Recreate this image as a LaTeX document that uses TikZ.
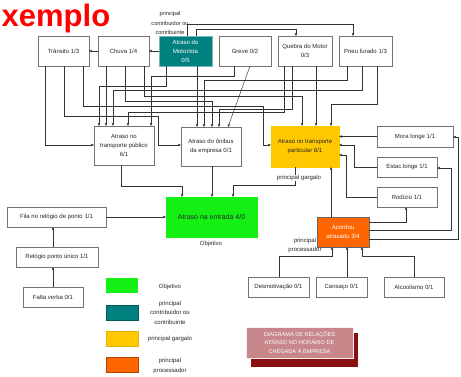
\documentclass[tikz,border=0pt]{standalone}
\usepackage{fontspec}
\setmainfont{Liberation Sans}
\usetikzlibrary{arrows.meta}
\definecolor{cgreen}{HTML}{14F014}
\definecolor{cteal}{HTML}{00807F}
\definecolor{cyellow}{HTML}{FFC800}
\definecolor{corange}{HTML}{FF6600}
\definecolor{cpink}{HTML}{C8878A}
\definecolor{cdark}{HTML}{8A1010}
\definecolor{cred}{HTML}{FF0000}
\begin{document}
\begin{tikzpicture}[x=1pt,y=-1pt,
  box/.style={draw=black!55, line width=0.5pt, fill=white, inner sep=0pt, outer sep=0pt, align=center, font=\fontsize{6}{9}\selectfont, text=black!85},
  con/.style={draw=black!80, line width=0.45pt, -{Stealth[length=3.2pt,width=2.6pt]}},
  lbl/.style={inner sep=0.5pt, align=center, font=\fontsize{6}{9}\selectfont, text=black!85},
  leg/.style={inner sep=0pt, outer sep=0pt, minimum width=32pt, minimum height=15pt}]
\useasboundingbox (0,0) rectangle (461,376);
\fill[white] (0,0) rectangle (461,376);

% title
\node[font=\bfseries\fontsize{31}{31}\selectfont, text=cred, anchor=base west, inner sep=0pt] (title) at (1.5,26.5) {xemplo};

% top row
\node[box, minimum width=51pt, minimum height=30pt] (T) at (63.5,51) {Trânsito 1/3};
\node[box, minimum width=51pt, minimum height=30pt] (C) at (123.5,51) {Chuva 1/4};
\node[box, minimum width=53pt, minimum height=30pt, fill=cteal, draw=cteal!55, text=white] (M) at (185.5,51) {Atraso do\\Motorista\\0/5};
\node[box, minimum width=52pt, minimum height=30pt] (G) at (245,51) {Greve 0/2};
\node[box, minimum width=54pt, minimum height=30pt] (Q) at (305,51) {Quebra do Motor\\0/3};
\node[box, minimum width=53pt, minimum height=30pt] (P) at (365.5,51) {Pneu furado 1/3};

% middle row
\node[box, minimum width=60pt, minimum height=39pt] (TP) at (124,145.5) {Atraso no\\transporte público\\6/1};
\node[box, minimum width=60pt, minimum height=39pt] (ON) at (211,146.5) {Atraso do ônibus\\da empresa 0/1};
\node[box, minimum width=68pt, minimum height=41pt, fill=cyellow, draw=cyellow] (PA) at (305,146.5) {Atraso no transporte\\particular 8/1};
\node[box, minimum width=76pt, minimum height=21pt] (Mo) at (415,136.5) {Mora longe 1/1};
\node[box, minimum width=60pt, minimum height=20pt] (Es) at (407,167) {Estac.longe 1/1};
\node[box, minimum width=60pt, minimum height=20pt] (Ro) at (407,197) {Rodízio 1/1};

% lower
\node[box, minimum width=91pt, minimum height=40pt, fill=cgreen, draw=cgreen, font=\fontsize{7}{9}\selectfont] (Gr) at (211.5,217) {Atraso na entrada 4/0};
\node[box, minimum width=99pt, minimum height=20pt] (Fi) at (56.5,217) {Fila no relógio de ponto 1/1};
\node[box, minimum width=82pt, minimum height=20pt] (Re) at (57,257) {Relógio ponto único 1/1};
\node[box, minimum width=60pt, minimum height=20pt] (Fa) at (53,297) {Falta verba 0/1};
\node[box, minimum width=52pt, minimum height=30pt, fill=corange, draw=black!60, text=white] (Ac) at (343,232) {Acordou\\atrasado 3/4};
\node[box, minimum width=61pt, minimum height=20pt] (De) at (278.5,287) {Desmotivação 0/1};
\node[box, minimum width=51pt, minimum height=20pt] (Ca) at (341.5,287) {Cansaço 0/1};
\node[box, minimum width=60pt, minimum height=20pt] (Al) at (414,287) {Alcoolismo 0/1};

% connectors top row
\draw[con] (M.west) -- (C.east);
\draw[con] (C.west) -- (T.east);
\draw[con] (M.north -| 187,0) -- (187,24) -| (P.north -| 353,0);
\draw[con] (M.north -| 196,0) -- (196,29) -| (Q.north -| 296,0);

% top to middle
\draw[con] (T.south -| 45,0) |- (TP.west |- 0,145);
\draw[con] (T.south -| 64,0) |- (158,116) |- (ON.west |- 0,145);
\draw[con] (T.south -| 83,0) |- (263,106) |- (PA.west |- 0,145);
\draw[con] (C.south -| 106,0) -- (TP.north -| 106,0);
\draw[con] (C.south -| 125,0) |- (212,101) -- (ON.north -| 212,0);
\draw[con] (C.south -| 144,0) |- (302,96) -- (PA.north -| 302,0);
\draw[con] (M.south -| 166,0) |- (99,86) -- (TP.north -| 99,0);
\draw[con] (M.south -| 197,0) -- (ON.north -| 197,0);
\draw[con] (G.south -| 234,0) |- (151,76) -- (TP.north -| 151,0);
\draw[con] (G.south -| 250,0) -- (ON.north -| 228,0);
\draw[con] (Q.south -| 284,0) |- (128,112) -- (TP.north -| 128,0);
\draw[con] (Q.south -| 292,0) |- (219,109) -- (ON.north -| 219,0);
\draw[con] (Q.south -| 316,0) -- (PA.north -| 316,0);
\draw[con] (P.south -| 347,0) |- (204,80) -- (ON.north -| 204,0);
\draw[con] (P.south -| 362,0) |- (113,90) -- (TP.north -| 113,0);
\draw[con] (P.south -| 377,0) |- (331,104) -- (PA.north -| 331,0);

% right side into particular
\draw[con] (Mo.west) -- (PA.east |- Mo.west);
\draw[con] (Es.west) -| (354,145) -- (PA.east |- 0,145);
\draw[con] (Ro.west) -| (346,155) -- (PA.east |- 0,155);

% middle to objective
\draw[con] (TP.south -| 121,0) |- (182,186) -- (Gr.north -| 182,0);
\draw[con] (ON.south -| 212,0) -- (Gr.north -| 212,0);
\draw[con] (PA.south -| 295,0) |- (233,185) -- (Gr.north -| 233,0);
\draw[con] (Fi.east) -- (Gr.west |- Fi.east);
\draw[con] (Re.north -| 53,0) -- (Fi.south -| 53,0);
\draw[con] (Fa.north -| 53,0) -- (Re.south -| 53,0);

% acordou
\draw[con] (Ac.north -| 331,0) -- (PA.south -| 331,0);
\draw[con] (Ac.east |- 0,222) -| (Ro.south -| 406,0);
\draw[con] (Ac.east |- 0,230) -| (451,168) -- (Es.east |- 0,168);
\draw[con] (Ac.east |- 0,239) -| (458,137) -- (Mo.east |- 0,137);
\draw[con] (De.north -| 279,0) |- (332,256) -- (Ac.south -| 332,0);
\draw[con] (Ca.north -| 347,0) -- (Ac.south -| 347,0);
\draw[con] (Al.north -| 414,0) |- (362,256) -- (Ac.south -| 362,0);

% labels
\node[lbl, font=\fontsize{5.6}{9.5}\selectfont] (lbM) at (170,23) {principal\\contribuidor ou\\contribuinte};
\node[lbl, fill=white] (lbPA) at (299,178) {principal gargalo};
\node[lbl] (lbAc) at (305,245) {principal\\processador};
\node[lbl] (lbGr) at (211,244) {Objetivo};

% legend
\node[leg, fill=cgreen] (lg1) at (122,285.5) {};
\node[leg, fill=cteal, draw=cteal!70!black] (lg2) at (122,312.5) {};
\node[leg, fill=cyellow, draw=cyellow!90!black] (lg3) at (122,339) {};
\node[leg, fill=corange, draw=corange!70!black] (lg4) at (122,365) {};
\node[lbl] (lt1) at (170,287) {Objetivo};
\node[lbl, font=\fontsize{6}{9.5}\selectfont] (lt2) at (170,312.5) {principal\\contribuidor ou\\contribuinte};
\node[lbl] (lt3) at (170,339) {principal gargalo};
\node[lbl, font=\fontsize{6}{10}\selectfont] (lt4) at (170,366) {principal\\processador};

% title box
\fill[cdark] (251,333) rectangle (358,367);
\node[draw=white!85!cpink, line width=0.5pt, fill=cpink, minimum width=107pt, minimum height=31pt, inner sep=0pt, align=center, text=white, font=\fontsize{5.6}{8.5}\selectfont] (tb) at (299.5,342.5) {DIAGRAMA DE RELAÇÕES\\ATRASO NO HORÁRIO DE\\CHEGADA À EMPRESA};
\end{tikzpicture}
\end{document}
